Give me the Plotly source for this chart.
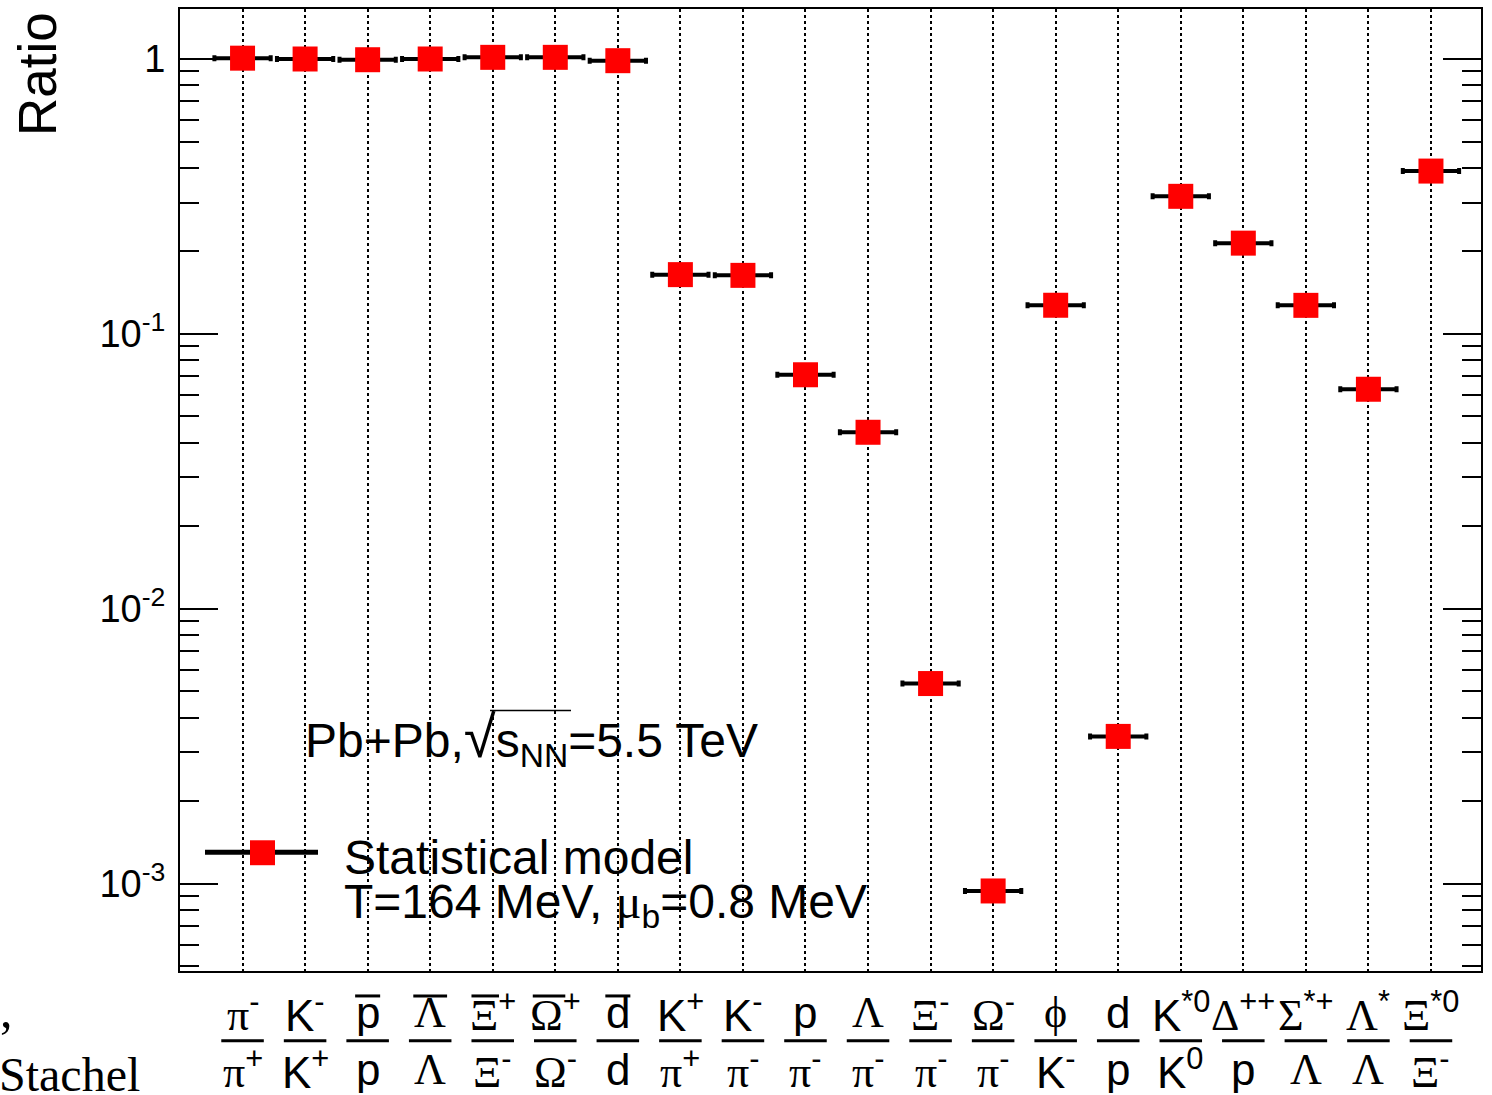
import plotly.graph_objects as go

# ---- data -------------------------------------------------------------
GREEK = 'font-family:Liberation Serif'


def g(ch):
    return '<span style="%s">%s</span>' % (GREEK, ch)


numerators = [
    g("π") + "<sup>-</sup>", "K<sup>-</sup>", "p", g("Λ"), g("Ξ") + "<sup>+</sup>",
    g("Ω") + "<sup>+</sup>", "d", "K<sup>+</sup>", "K<sup>-</sup>", "p",
    g("Λ"), g("Ξ") + "<sup>-</sup>", g("Ω") + "<sup>-</sup>", g("ϕ"), "d",
    "K<sup>*0</sup>", g("Δ") + "<sup>++</sup>", g("Σ") + "<sup>*+</sup>",
    g("Λ") + "<sup>*</sup>", g("Ξ") + "<sup>*0</sup>",
]
denominators = [
    g("π") + "<sup>+</sup>", "K<sup>+</sup>", "p", g("Λ"), g("Ξ") + "<sup>-</sup>",
    g("Ω") + "<sup>-</sup>", "d", g("π") + "<sup>+</sup>", g("π") + "<sup>-</sup>",
    g("π") + "<sup>-</sup>", g("π") + "<sup>-</sup>", g("π") + "<sup>-</sup>",
    g("π") + "<sup>-</sup>", "K<sup>-</sup>", "p", "K<sup>0</sup>", "p",
    g("Λ"), g("Λ"), g("Ξ") + "<sup>-</sup>",
]
# antiparticle numerators (drawn with a bar)
antiparticle = [False, False, True, True, True, True, True] + [False] * 13

ratios = [1.005, 0.998, 0.992, 0.998, 1.012, 1.012, 0.984,
          0.164, 0.163, 0.0709, 0.0438, 0.00534, 0.00094, 0.1269,
          0.00343, 0.316, 0.2135, 0.1268, 0.0628, 0.3904]

positions = list(range(1, len(ratios) + 1))

# ---- geometry helpers (pixel -> paper) ---------------------------------
W, H = 1492, 1095
L, R, T, B = 180, 1481, 7, 971


def px_x(px):
    return (px - L) / (R - L)


def px_y(py):
    return (B - py) / (B - T)


SANS = "Liberation Sans, Arial, sans-serif"
SERIF = "Liberation Serif, Times New Roman, serif"

fig = go.Figure()
fig.add_trace(go.Scatter(
    x=positions, y=ratios, mode="markers",
    marker=dict(symbol="square", size=25, color="#ff0000",
                line=dict(width=0)),
    error_x=dict(type="constant", value=0.45, thickness=4, width=3,
                 color="black"),
    showlegend=False, hoverinfo="skip",
))

annotations = []
shapes = []

# category labels drawn as fractions
for k, num, den in zip(positions, numerators, denominators):
    annotations.append(dict(x=k, xref="x", y=px_y(1012), yref="paper",
                            text=num, showarrow=False, xanchor="center",
                            yanchor="middle", height=48,
                            font=dict(family=SANS, size=44, color="black")))
    annotations.append(dict(x=k, xref="x", y=px_y(1069), yref="paper",
                            text=den, showarrow=False, xanchor="center",
                            yanchor="middle", height=48,
                            font=dict(family=SANS, size=44, color="black")))
    shapes.append(dict(type="line", xref="x", yref="paper",
                       x0=k - 0.34, x1=k + 0.34, y0=px_y(1041), y1=px_y(1041),
                       line=dict(color="black", width=3)))

# bars over antiparticle symbols
bar_spans = {3: (-0.2, 0.2), 4: (-0.27, 0.27), 5: (-0.34, 0.1),
             6: (-0.36, 0.16), 7: (-0.2, 0.2)}
for k, bar in zip(positions, antiparticle):
    if bar:
        a, b = bar_spans[k]
        shapes.append(dict(type="line", xref="x", yref="paper",
                           x0=k + a, x1=k + b, y0=px_y(996), y1=px_y(996),
                           line=dict(color="black", width=3)))

# y-axis title
annotations.append(dict(x=px_x(38), xref="paper", y=px_y(8), yref="paper",
                        text="Ratio", textangle=-90, showarrow=False,
                        xanchor="center", yanchor="top",
                        font=dict(family=SANS, size=53, color="black")))

# collision system
annotations.append(dict(x=px_x(303), xref="paper", y=px_y(739), yref="paper",
                        text='Pb+Pb,<span style="font-size:58px">√</span>'
                             's<sub>NN</sub>=5.5 TeV',
                        showarrow=False, xanchor="left", yanchor="middle",
                        font=dict(family=SANS, size=48, color="black")))
shapes.append(dict(type="line", xref="paper", yref="paper",
                   x0=px_x(490), x1=px_x(571), y0=px_y(710), y1=px_y(710),
                   line=dict(color="black", width=1.5)))

# legend entry
shapes.append(dict(type="line", xref="paper", yref="paper",
                   x0=px_x(205), x1=px_x(318), y0=px_y(852), y1=px_y(852),
                   line=dict(color="black", width=5)))
shapes.append(dict(type="rect", xref="paper", yref="paper",
                   x0=px_x(250), x1=px_x(275), y0=px_y(840), y1=px_y(865),
                   fillcolor="#ff0000", line=dict(width=0)))
annotations.append(dict(x=px_x(342), xref="paper", y=px_y(857), yref="paper",
                        text="Statistical model", showarrow=False,
                        xanchor="left", yanchor="middle", height=46,
                        font=dict(family=SANS, size=48, color="black")))
annotations.append(dict(x=px_x(342), xref="paper", y=px_y(905), yref="paper",
                        text="T=164 MeV, " + g("μ") + "<sub>b</sub>=0.8 MeV",
                        showarrow=False, xanchor="left", yanchor="middle",
                        height=46,
                        font=dict(family=SANS, size=48, color="black")))

# caption fragments at the lower left
annotations.append(dict(x=px_x(-2), xref="paper", y=px_y(1010), yref="paper",
                        text=",", showarrow=False, xanchor="left",
                        yanchor="middle",
                        font=dict(family=SERIF, size=50, color="black")))
annotations.append(dict(x=px_x(-3), xref="paper", y=px_y(1074), yref="paper",
                        text="Stachel", showarrow=False, xanchor="left",
                        yanchor="middle", height=40,
                        font=dict(family=SERIF, size=48, color="black")))

fig.update_layout(
    width=W, height=H,
    margin=dict(l=L, r=W - R, t=T, b=H - B),
    paper_bgcolor="white", plot_bgcolor="white",
    xaxis=dict(range=[0, 20.8], tickmode="array", tickvals=positions,
               showticklabels=False, ticks="", showgrid=True,
               gridcolor="black", gridwidth=1.5, griddash="3px,3px",
               showline=True, linecolor="black", linewidth=2, mirror=True,
               zeroline=False),
    yaxis=dict(type="log", range=[-3.318, 0.181], tickmode="array",
               tickvals=[1e-3, 1e-2, 1e-1, 1],
               ticktext=["10<sup>-3</sup>", "10<sup>-2</sup>",
                         "10<sup>-1</sup>", "1"],
               ticks="inside", ticklen=38, tickwidth=1.5, tickcolor="black",
               minor=dict(ticks="inside", ticklen=19, tickwidth=1.5,
                          tickcolor="black", dtick="D1", showgrid=False),
               showgrid=False, showline=True, linecolor="black", linewidth=2,
               mirror="allticks", zeroline=False, ticklabelstandoff=5,
               tickfont=dict(family=SANS, size=38, color="black")),
    annotations=annotations,
    shapes=shapes,
)

fig.write_html("out.html")
